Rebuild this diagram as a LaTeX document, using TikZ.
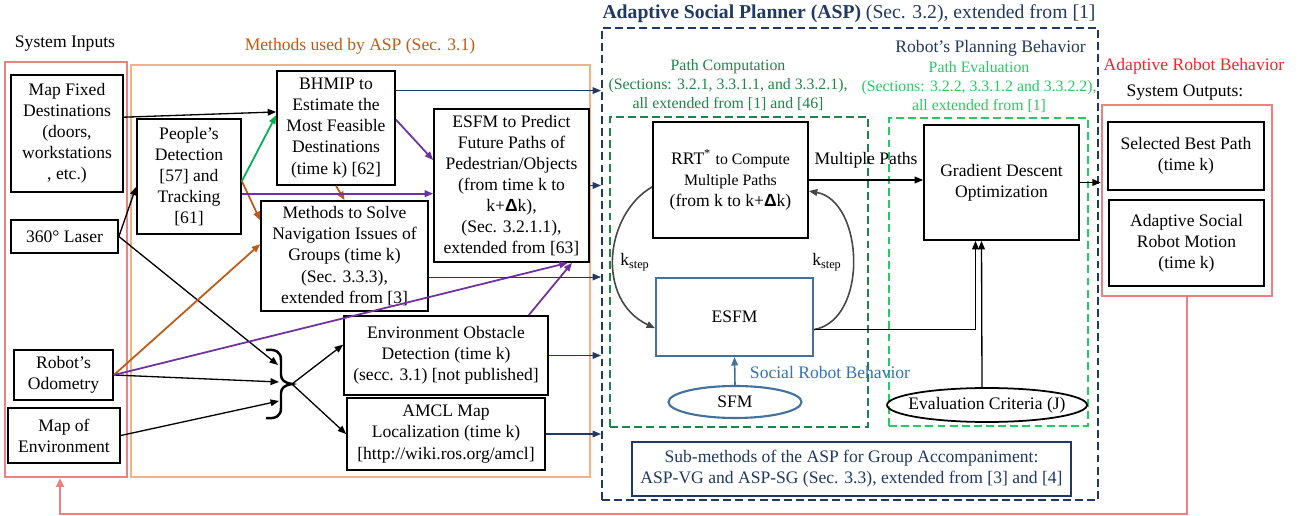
\documentclass[tikz,border=0pt]{standalone}
\usepackage{fontspec}
\setmainfont{Liberation Serif}
\setsansfont{Liberation Sans}
\usepackage{tikz}
\usetikzlibrary{arrows.meta,calc,shapes.geometric}
\definecolor{inred}{RGB}{240,128,128}
\definecolor{methorange}{RGB}{244,177,131}
\definecolor{methbrown}{RGB}{190,90,20}
\definecolor{aspblue}{RGB}{31,56,100}
\definecolor{compgreen}{RGB}{30,132,73}
\definecolor{evalgreen}{RGB}{40,200,100}
\definecolor{arrgreen}{RGB}{0,176,80}
\definecolor{arrpurple}{RGB}{112,48,160}
\definecolor{esfmblue}{RGB}{65,113,156}
\definecolor{socialblue}{RGB}{46,117,182}
\definecolor{outred}{RGB}{235,40,40}
\definecolor{curvegray}{RGB}{70,70,70}
\newcommand{\kstep}{k\textsubscript{step}}
\newcommand{\dk}{{\sffamily\bfseries Δ}k}

\begin{document}
\begin{tikzpicture}[x=0.02cm, y=-0.02cm, font=\fontsize{10}{12}\selectfont]

        \tikzstyle{box}    = [draw, line width=1pt, align=center, inner sep=1pt]
        \tikzstyle{frame}  = [line width=1.4pt, inner sep=0pt]
        \tikzstyle{dframe} = [line width=1.2pt, dash pattern=on 4.5pt off 2.4pt, inner sep=0pt]
        \tikzstyle{arr}    = [line width=0.75pt, -{Triangle[length=4.8pt,width=3.8pt]}]
        \tikzstyle{carr}   = [arr, line width=1pt]
        \tikzstyle{bluearr}= [arr, aspblue, line width=0.6pt]
        \tikzstyle{curve}  = [arr, curvegray, line width=0.9pt]
        \tikzstyle{small}  = [font=\fontsize{9}{10.8}\selectfont, align=center]

        \useasboundingbox (0,0) rectangle (1304,516);

        % frames
        \node[frame, draw=inred, minimum width=2.44cm, minimum height=8.3cm] (inframe) at (66,269.5) {};
        \node[frame, draw=methorange, minimum width=9.18cm, minimum height=8.24cm] (methframe) at (360.5,271) {};
        \node[dframe, draw=aspblue, minimum width=9.92cm, minimum height=9.44cm] (aspframe) at (850,264) {};
        \node[dframe, draw=compgreen, minimum width=5.16cm, minimum height=6.2cm] (compframe) at (739,272) {};
        \node[dframe, draw=evalgreen, minimum width=3.98cm, minimum height=6.16cm] (evalframe) at (988.5,272) {};
        \node[frame, draw=inred, minimum width=3.4cm, minimum height=3.82cm] (outframe) at (1187,200.5) {};

        % titles
        \node (intitle) at (65,44) {System Inputs};
        \node[text=methbrown] (methtitle) at (360,46) {Methods used by ASP (Sec. 3.1)};
        \node[text=aspblue, font=\fontsize{11.2}{13}\selectfont] (asptitle) at (849,14)
                {\textbf{Adaptive Social Planner (ASP)} (Sec. 3.2), extended from [1]};
        \node[text=aspblue, anchor=east] (plantitle) at (1092,48) {Robot’s Planning Behavior};
        \node[small, text=compgreen] (comptitle) at (728,85)
                {Path Computation\\(Sections: 3.2.1, 3.3.1.1, and 3.3.2.1),\\all extended from [1] and [46]};
        \node[small, text=evalgreen] (evaltitle) at (979,87.5)
                {Path Evaluation\\(Sections: 3.2.2, 3.3.1.2 and 3.3.2.2),\\all extended from [1]};
        \node[text=outred] (adapttitle) at (1194,66) {Adaptive Robot Behavior};
        \node (outtitle) at (1185,93) {System Outputs:};
        \node[text=socialblue] (socialtitle) at (830,372) {Social Robot Behavior};

        % inputs
        \node[box, minimum width=2.24cm, minimum height=2.34cm] (mapfixed) at (67,133.5)
                {Map Fixed\\Destinations\\(doors,\\workstations\\, etc.)};
        \node[box, minimum width=2.14cm, minimum height=0.66cm] (laser) at (64.5,236.5) {360° Laser};
        \node[box, minimum width=1.98cm, minimum height=1cm] (odom) at (63.5,375) {Robot’s\\Odometry};
        \node[box, minimum width=2.24cm, minimum height=1.1cm] (mapenv) at (64,435.5) {Map of\\Environment};

        % methods
        \node[box, minimum width=2.08cm, minimum height=2.3cm] (people) at (189,176.5)
                {People’s\\Detection\\{}[57] and\\Tracking\\{}[61]};
        \node[box, minimum width=2.36cm, minimum height=2.28cm] (bhmip) at (336,128)
                {BHMIP to\\Estimate the\\Most Feasible\\Destinations\\(time k) [62]};
        \node[box, minimum width=3.34cm, minimum height=2.2cm] (groups) at (344.5,256)
                {Methods to Solve\\Navigation Issues of\\Groups (time k)\\(Sec. 3.3.3),\\extended from [3]};
        \node[box, minimum width=3.1cm, minimum height=3.06cm] (esfmpred) at (511.5,185.5)
                {ESFM to Predict\\Future Paths of\\Pedestrian/Objects\\(from time k to\\k+\dk),\\(Sec. 3.2.1.1),\\extended from [63]};
        \node[box, minimum width=4.08cm, minimum height=1.58cm] (envobs) at (446,355.5)
                {Environment Obstacle\\Detection (time k)\\(secc. 3.1) [not published]};
        \node[box, minimum width=3.96cm, minimum height=1.44cm] (amcl) at (446,434)
                {AMCL Map\\Localization (time k)\\{}[http://wiki.ros.org/amcl]};

        % brace
        \draw[line width=1.4pt] (266,350) .. controls (276,349) and (281,352) .. (281,360) -- (281,375)
                .. controls (281,380) and (285,383) .. (292,384)
                .. controls (285,385) and (281,388) .. (281,393) -- (281,408)
                .. controls (281,416) and (276,419) .. (266,418);
        \coordinate (bin1) at (278,365);
        \coordinate (bin2) at (279,382);
        \coordinate (bin3) at (279,401);
        \coordinate (bout) at (292,384);

        % planner
        \node[box, minimum width=3.1cm, minimum height=2.32cm] (rrt) at (730.5,180)
                {RRT\textsuperscript{*} {\fontsize{9}{12}\selectfont to Compute}\\{\fontsize{9}{12}\selectfont Multiple Paths}\\(from k to k+\dk)};
        \node[box, draw=esfmblue, line width=1.2pt, minimum width=3.14cm, minimum height=1.56cm] (esfm) at (734.5,317) {ESFM};
        \node[ellipse, draw=esfmblue, line width=1.2pt, minimum width=2.66cm, minimum height=0.64cm, inner sep=0pt] (sfm) at (735,402) {SFM};
        \node[box, minimum width=3.1cm, minimum height=2.3cm] (grad) at (1001.5,182.5) {Gradient Descent\\Optimization};
        \node[ellipse, draw, line width=1pt, minimum width=4cm, minimum height=0.68cm] (evalcrit) at (987,405) {};
        \node (evaltext) at (evalcrit) {Evaluation Criteria (J)};
        \node[box, draw=aspblue, text=aspblue, minimum width=8.78cm, minimum height=1.08cm] (submeth) at (851.5,469)
                {Sub-methods of the ASP for Group Accompaniment:\\ASP-VG and ASP-SG (Sec. 3.3), extended from [3] and [4]};

        % outputs
        \node[box, minimum width=3.12cm, minimum height=1.36cm] (best) at (1186,156) {Selected Best Path\\(time k)};
        \node[box, minimum width=3.1cm, minimum height=1.72cm] (motion) at (1186.5,243) {Adaptive Social\\Robot Motion\\(time k)};

        % connectors
        \draw[arr] (mapfixed.16) -- (bhmip.165);
        \draw[arr] (laser.east) -- (people.191);
        \draw[arr] (laser.east) -- (bin1);
        \draw[arr] (odom.east) -- (bin2);
        \draw[arr] (mapenv.east) -- (bin3);
        \draw[arr] (bout) -- (envobs.174);
        \draw[arr] (bout) -- (amcl.west);

        \draw[carr, arrgreen] (people.355) -- (bhmip.168);
        \draw[carr, methbrown] (people.355) -- (groups.157);
        \draw[carr, methbrown] (bhmip.south) -- (groups.north);
        \draw[carr, methbrown] (odom.east) -- (groups.172);
        \draw[carr, arrpurple] (people.342) -- (people.342 -| esfmpred.west);
        \draw[carr, arrpurple] (bhmip.8) -- (esfmpred.162);
        \draw[carr, arrpurple] (odom.east) -- (esfmpred.306);
        \draw[carr, arrpurple] (envobs.26) -- (esfmpred.308);

        \foreach \n/\a in {bhmip/32, groups/346, esfmpred/0, envobs/0, amcl/0}
        {
                \draw[bluearr] (\n.\a) -- (\n.\a -| aspframe.west);
        }

        \draw[curve] (rrt.185) .. controls +(-48,28) and +(-59,-28) .. (esfm.188);
        \draw[curve] (esfm.351) .. controls +(55,-10) and +(55,10) .. (rrt.352);
        \node (kleft) at (635,262) {\kstep};
        \node (kright) at (827,262) {\kstep};

        \draw[arr] (rrt.east) -- (rrt.east -| grad.west) node[midway, above=3pt] (mplabel) {Multiple Paths};
        \draw[arr] (esfm.351) -| ($(grad.south)+(-26,0)$);
        \draw[arr] ($(evalcrit.north)+(-5,0)$) -- ($(grad.south)+(-20,0)$);
        \draw[arr, esfmblue, line width=0.9pt] (sfm.north) -- (esfm.south);
        \draw[arr] (grad.east) -- (grad.east -| outframe.west);

        % feedback to the inputs
        \draw[line width=1.4pt, inred, -{Triangle[length=5pt,width=4.5pt]}]
                (outframe.south) |- ($(inframe.south)+(-6,36)$) -- ($(inframe.south)+(-6,0)$);

\end{tikzpicture}
\end{document}
